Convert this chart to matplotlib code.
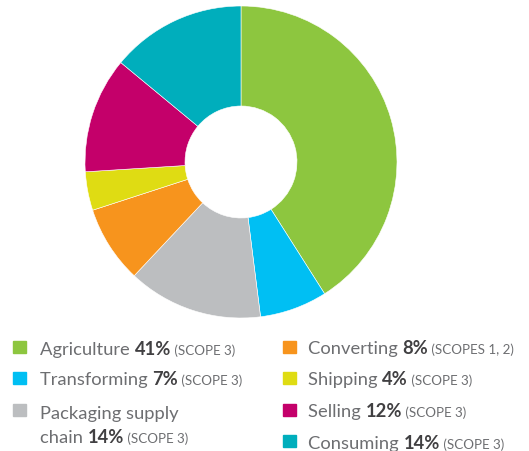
import matplotlib
matplotlib.use("Agg")
import matplotlib.pyplot as plt
from matplotlib.patches import Rectangle

# Emission shares by value-chain stage
stages = ["Agriculture", "Transforming", "Packaging supply chain", "Converting",
          "Shipping", "Selling", "Consuming"]
shares = [41, 7, 14, 8, 4, 12, 14]
scopes = ["(SCOPE 3)", "(SCOPE 3)", "(SCOPE 3)", "(SCOPES 1, 2)",
          "(SCOPE 3)", "(SCOPE 3)", "(SCOPE 3)"]
colors = ["#8DC63F", "#00BFF3", "#BCBEC0", "#F7941D",
          "#DFDC13", "#C4006A", "#00AEBC"]

W, H = 529, 452
fig = plt.figure(figsize=(W / 100, H / 100), dpi=100)
fig.patch.set_facecolor("white")

# Donut chart
cx, cy, r_out, r_in = 241, 163, 156, 56
ax = fig.add_axes([(cx - r_out) / W, (H - cy - r_out) / H, 2 * r_out / W, 2 * r_out / H])
ax.pie(shares, colors=colors, startangle=90, counterclock=False, radius=1,
       wedgeprops=dict(width=1 - r_in / r_out, edgecolor="white", linewidth=0.4))
ax.set_xlim(-1, 1)
ax.set_ylim(-1, 1)
ax.set_aspect("equal")
ax.axis("off")

FONT = "Lato"
LIGHT = "#6D6E71"
DARK = "#414042"
NAME_SIZE = 13.2
SCOPE_SIZE = 9.6

fig.canvas.draw()
renderer = fig.canvas.get_renderer()


def rich_line(x, y, parts):
    """Draw text segments side by side on one baseline (x, y in pixels from top-left)."""
    for text, weight, size, color in parts:
        t = fig.text(x / W, 1 - y / H, text, fontsize=size, fontweight=weight,
                     color=color, family=FONT, ha="left", va="baseline")
        bb = t.get_window_extent(renderer=renderer)
        x += bb.width


def entry_parts(i, name):
    return [(name + " ", "normal", NAME_SIZE, LIGHT),
            (f"{shares[i]}%", "bold", NAME_SIZE, DARK),
            (" " + scopes[i], "normal", SCOPE_SIZE, LIGHT)]


# Legend: left column
left = [(0, 348, 355), (1, 379, 385), (2, 411, 419)]
for i, sq_y, base in left:
    fig.patches.append(Rectangle((13 / W, 1 - (sq_y + 6) / H), 13 / W, 12 / H,
                                 transform=fig.transFigure, color=colors[i]))
    if i == 2:
        rich_line(40, base, [("Packaging supply", "normal", NAME_SIZE, LIGHT)])
        rich_line(40, 443, entry_parts(i, "chain"))
    else:
        rich_line(40, base, entry_parts(i, stages[i]))

# Legend: right column
right = [(3, 348, 354), (4, 379, 385), (5, 411, 417), (6, 442, 449)]
for i, sq_y, base in right:
    fig.patches.append(Rectangle((283 / W, 1 - (sq_y + 6) / H), 13 / W, 12 / H,
                                 transform=fig.transFigure, color=colors[i]))
    rich_line(308, base, entry_parts(i, stages[i]))

fig.savefig("out.png", dpi=100, facecolor="white")
